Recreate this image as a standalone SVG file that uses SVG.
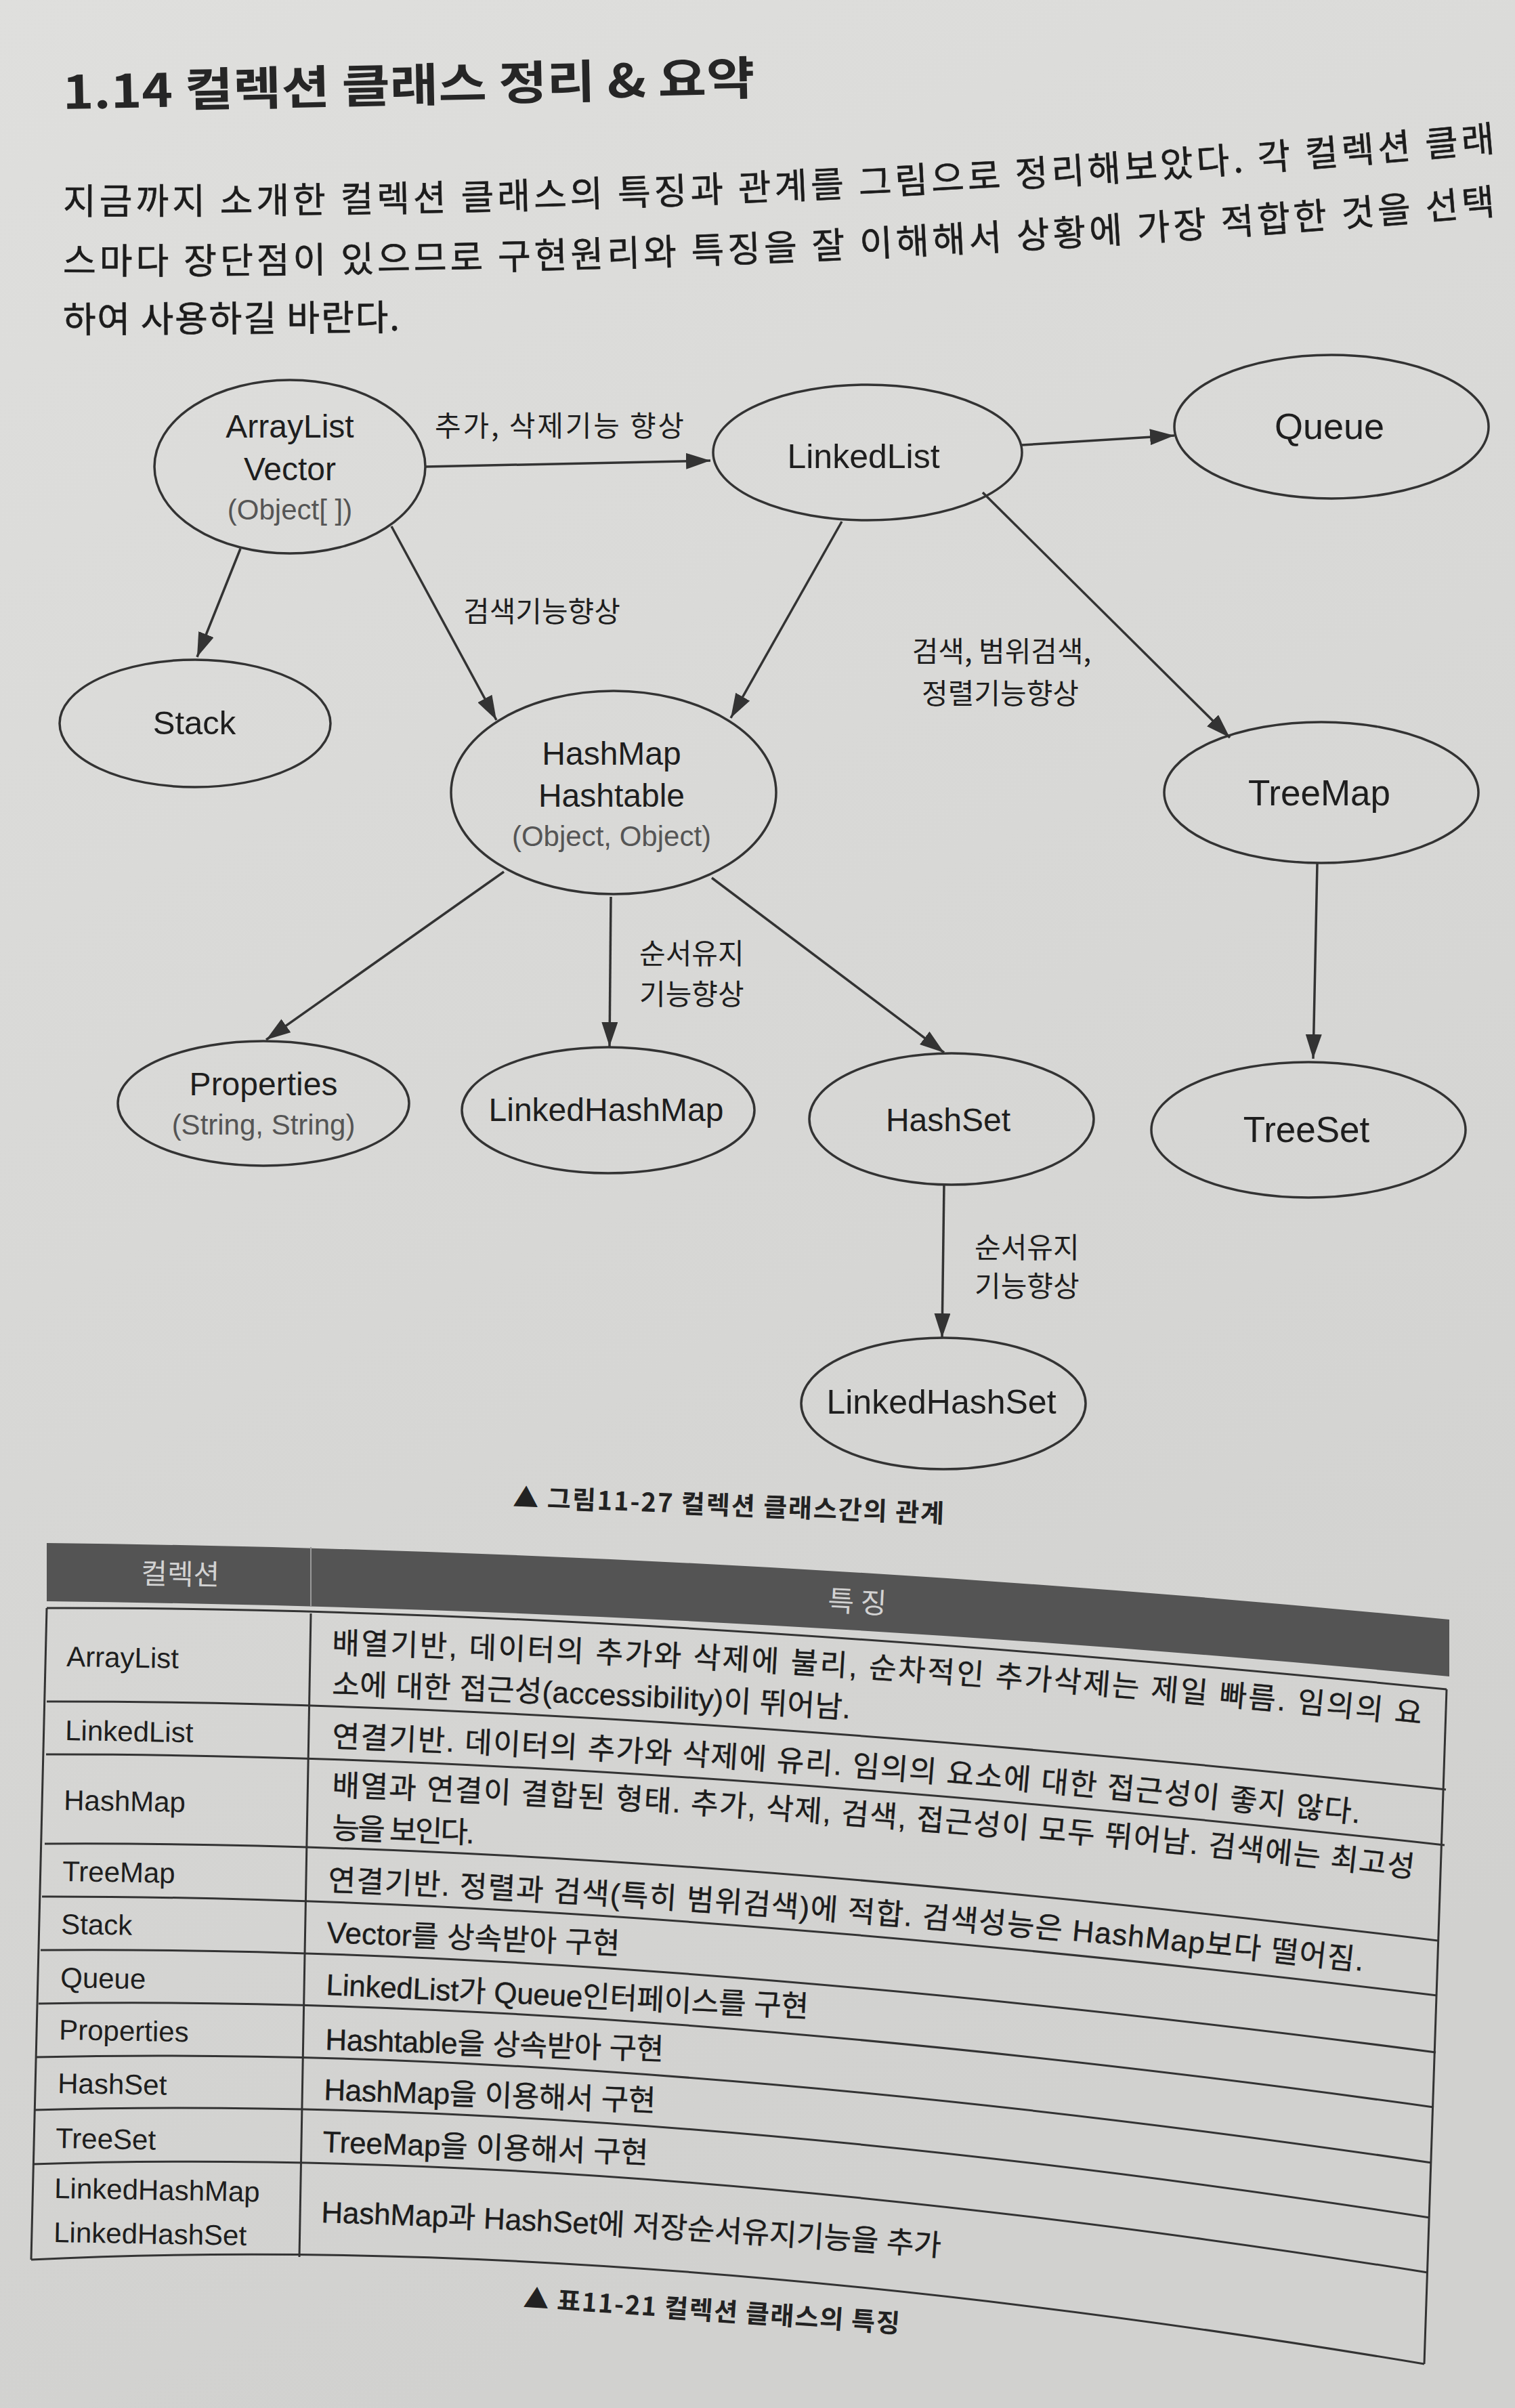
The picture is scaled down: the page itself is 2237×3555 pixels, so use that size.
<svg xmlns="http://www.w3.org/2000/svg" width="2237" height="3555" viewBox="0 0 2237 3555">
<defs>
<linearGradient id="paper" x1="0" y1="0" x2="0.3" y2="1">
<stop offset="0" stop-color="#dfdfdd"/>
<stop offset="0.5" stop-color="#d8d8d6"/>
<stop offset="1" stop-color="#d1d1cf"/>
</linearGradient>
<marker id="ah" viewBox="0 0 36 24" refX="36" refY="12" markerWidth="36" markerHeight="24" markerUnits="userSpaceOnUse" orient="auto">
<path d="M0,0 L36,12 L0,24 z" fill="#333"/>
</marker>
<path id="p1" d="M93,316 Q1152,319.5 2211,223"/>
<path id="p2" d="M93,404 Q1152,409 2211,316"/>
<path id="r1a" d="M490,2441 Q1295,2461.5 2100,2546"/>
<path id="r1b" d="M490,2502 Q873,2512.3 1256,2537"/>
<path id="r2" d="M490,2579 Q1250,2606.9 2010,2692"/>
<path id="r3a" d="M490,2651 Q1289.5,2679.7 2089,2772"/>
<path id="r4" d="M484,2791 Q1249,2821.5 2014,2910"/>
<path id="r11" d="M474,3281 Q932,3295.6 1390,3331"/>
<style>
.node ellipse{fill:none;stroke:#333;stroke-width:3.5}
.lbl{font-family:'Liberation Sans','Noto Sans CJK KR',sans-serif;font-size:48px;fill:#1e1e1e;text-anchor:middle}
.sub{font-size:42px;fill:#555}
.edge{stroke:#333;stroke-width:3.5;fill:none;marker-end:url(#ah)}
.elbl{font-family:'Noto Sans CJK KR',sans-serif;font-size:42px;fill:#1e1e1e}
.title{font-family:'Noto Sans CJK KR',sans-serif;font-weight:bold;font-size:68px;fill:#262626}
.para{font-family:'Noto Sans CJK KR',sans-serif;font-size:53px;fill:#1c1c1c;stroke:#1c1c1c;stroke-width:0.6}
.cap{font-family:'Noto Sans CJK KR',sans-serif;font-weight:bold;font-size:38px;fill:#222}
.th{font-family:'Noto Sans CJK KR',sans-serif;font-size:42px;fill:#d2d2d2}
.tl{font-family:'Liberation Sans','Noto Sans CJK KR',sans-serif;font-size:42px;fill:#1e1e1e}
.td{font-family:'Liberation Sans','Noto Sans CJK KR',sans-serif;font-size:44px;fill:#1c1c1c;stroke:#1c1c1c;stroke-width:0.4}
.rule{stroke:#333;stroke-width:3;fill:none}
</style>
</defs>
<rect width="2237" height="3555" fill="url(#paper)"/>

<g id="heading">
<text class="title" x="93" y="161" transform="rotate(-1.2 93 161)" textLength="1022" lengthAdjust="spacingAndGlyphs">1.14 컬렉션 클래스 정리 &amp; 요약</text>
<text class="para"><textPath href="#p1" textLength="2118" lengthAdjust="spacing">지금까지 소개한 컬렉션 클래스의 특징과 관계를 그림으로 정리해보았다. 각 컬렉션 클래</textPath></text>
<text class="para"><textPath href="#p2" textLength="2118" lengthAdjust="spacing">스마다 장단점이 있으므로 구현원리와 특징을 잘 이해해서 상황에 가장 적합한 것을 선택</textPath></text>
<text class="para" x="93" y="491" transform="rotate(-0.4 93 491)" textLength="497" lengthAdjust="spacing">하여 사용하길 바란다.</text>
</g>

<g id="connectors">
<line class="edge" x1="628" y1="689" x2="1049" y2="680"/>
<line class="edge" x1="355" y1="810" x2="291" y2="970"/>
<line class="edge" x1="578" y1="777" x2="733" y2="1063"/>
<line class="edge" x1="1243" y1="770" x2="1079" y2="1060"/>
<line class="edge" x1="1509" y1="657" x2="1734" y2="643"/>
<line class="edge" x1="1451" y1="727" x2="1816" y2="1089"/>
<line class="edge" x1="744" y1="1287" x2="393" y2="1535"/>
<line class="edge" x1="902" y1="1324" x2="900" y2="1545"/>
<line class="edge" x1="1051" y1="1296" x2="1394" y2="1554"/>
<line class="edge" x1="1945" y1="1275" x2="1939" y2="1563"/>
<line class="edge" x1="1394" y1="1747" x2="1391" y2="1975"/>
</g>

<g id="edge-labels">
<text class="elbl" x="642" y="644" textLength="368" lengthAdjust="spacing">추가, 삭제기능 향상</text>
<text class="elbl" x="684" y="918">검색기능향상</text>
<text class="elbl" x="1479" y="977" text-anchor="middle">검색, 범위검색,</text>
<text class="elbl" x="1477" y="1039" text-anchor="middle">정렬기능향상</text>
<text class="elbl" x="944" y="1423">순서유지</text>
<text class="elbl" x="944" y="1483">기능향상</text>
<text class="elbl" x="1439" y="1857">순서유지</text>
<text class="elbl" x="1439" y="1914">기능향상</text>
</g>

<g id="n-arraylist" class="node">
<ellipse cx="428" cy="689" rx="200" ry="128"/>
<text class="lbl" x="428" y="646">ArrayList</text>
<text class="lbl" x="428" y="709">Vector</text>
<text class="lbl sub" x="428" y="767">(Object[ ])</text>
</g>
<g id="n-linkedlist" class="node">
<ellipse cx="1281" cy="668" rx="228" ry="100"/>
<text class="lbl" x="1275" y="691" style="font-size:50px">LinkedList</text>
</g>
<g id="n-queue" class="node">
<ellipse cx="1966" cy="630" rx="232" ry="106"/>
<text class="lbl" x="1963" y="648" style="font-size:54px">Queue</text>
</g>
<g id="n-stack" class="node">
<ellipse cx="288" cy="1068" rx="200" ry="94"/>
<text class="lbl" x="287" y="1084" style="font-size:49px">Stack</text>
</g>
<g id="n-hashmap" class="node">
<ellipse cx="906" cy="1170" rx="240" ry="150"/>
<text class="lbl" x="903" y="1129">HashMap</text>
<text class="lbl" x="903" y="1191">Hashtable</text>
<text class="lbl sub" x="903" y="1249">(Object, Object)</text>
</g>
<g id="n-treemap" class="node">
<ellipse cx="1951" cy="1170" rx="232" ry="104"/>
<text class="lbl" x="1948" y="1189" style="font-size:53px">TreeMap</text>
</g>
<g id="n-properties" class="node">
<ellipse cx="389" cy="1629" rx="215" ry="92"/>
<text class="lbl" x="389" y="1617">Properties</text>
<text class="lbl sub" x="389" y="1675">(String, String)</text>
</g>
<g id="n-linkedhashmap" class="node">
<ellipse cx="898" cy="1639" rx="216" ry="93"/>
<text class="lbl" x="895" y="1655">LinkedHashMap</text>
</g>
<g id="n-hashset" class="node">
<ellipse cx="1405" cy="1652" rx="210" ry="97"/>
<text class="lbl" x="1400" y="1670">HashSet</text>
</g>
<g id="n-treeset" class="node">
<ellipse cx="1932" cy="1668" rx="232" ry="100"/>
<text class="lbl" x="1929" y="1686" style="font-size:53px">TreeSet</text>
</g>
<g id="n-linkedhashset" class="node">
<ellipse cx="1393" cy="2072" rx="210" ry="97"/>
<text class="lbl" x="1390" y="2087" style="font-size:50px">LinkedHashSet</text>
</g>

<g id="caption-figure">
<text class="cap" x="757" y="2224" transform="rotate(2.16 757 2224)" textLength="637" lengthAdjust="spacing">▲ 그림11-27  컬렉션 클래스간의 관계</text>
</g>

<g id="table">
<path d="M69,2278 Q1104,2290 2140,2391 L2140,2475 Q1104,2376 69,2364 Z" fill="#545454"/>
<line x1="459" y1="2284" x2="459" y2="2371" stroke="#9a9a9a" stroke-width="2"/>
<text class="th" x="266" y="2339" text-anchor="middle" transform="rotate(1 266 2339)">컬렉션</text>
<text class="th" x="1265" y="2380" text-anchor="middle" transform="rotate(3 1265 2380)">특 징</text>

<path class="rule" d="M69,2374 Q897.5,2372 2136,2494"/>
<path class="rule" d="M69,2512 Q898,2511 2135,2642"/>
<path class="rule" d="M68,2590 Q899.5,2589 2133,2724"/>
<path class="rule" d="M66,2722 Q905.5,2716.5 2123,2865"/>
<path class="rule" d="M62,2800 Q908,2799 2122,2946"/>
<path class="rule" d="M60,2879 Q910,2871.5 2120,3030"/>
<path class="rule" d="M57,2958 Q913,2943.5 2117,3111"/>
<path class="rule" d="M54,3037 Q916,3017 2114,3193"/>
<path class="rule" d="M51,3115 Q919,3089.5 2111,3274"/>
<path class="rule" d="M48,3195 Q922,3166.5 2108,3355"/>
<path class="rule" d="M46,3336 Q925.5,3293 2103,3490"/>
<line class="rule" x1="69" y1="2374" x2="46" y2="3336"/>
<line class="rule" x1="2136" y1="2494" x2="2103" y2="3490"/>
<line class="rule" x1="459" y1="2382" x2="442" y2="3332"/>

<text class="tl" x="98" y="2460" transform="rotate(1 98 2460)">ArrayList</text>
<text class="tl" x="96" y="2569" transform="rotate(1 96 2569)">LinkedList</text>
<text class="tl" x="94" y="2672" transform="rotate(1 94 2672)">HashMap</text>
<text class="tl" x="92" y="2777" transform="rotate(1 92 2777)">TreeMap</text>
<text class="tl" x="90" y="2855" transform="rotate(1 90 2855)">Stack</text>
<text class="tl" x="89" y="2934" transform="rotate(1 89 2934)">Queue</text>
<text class="tl" x="87" y="3011" transform="rotate(1 87 3011)">Properties</text>
<text class="tl" x="85" y="3090" transform="rotate(1 85 3090)">HashSet</text>
<text class="tl" x="82" y="3171" transform="rotate(1 82 3171)">TreeSet</text>
<text class="tl" x="80" y="3245" transform="rotate(1 80 3245)">LinkedHashMap</text>
<text class="tl" x="79" y="3310" transform="rotate(1 79 3310)">LinkedHashSet</text>

<text class="td"><textPath href="#r1a" textLength="1612" lengthAdjust="spacing">배열기반, 데이터의 추가와 삭제에 불리, 순차적인 추가삭제는 제일 빠름. 임의의 요</textPath></text>
<text class="td"><textPath href="#r1b" textLength="766" lengthAdjust="spacing">소에 대한 접근성(accessibility)이 뛰어남.</textPath></text>
<text class="td"><textPath href="#r2" textLength="1522" lengthAdjust="spacing">연결기반. 데이터의 추가와 삭제에 유리. 임의의 요소에 대한 접근성이 좋지 않다.</textPath></text>
<text class="td"><textPath href="#r3a" textLength="1602" lengthAdjust="spacing">배열과 연결이 결합된 형태. 추가, 삭제, 검색, 접근성이 모두 뛰어남. 검색에는 최고성</textPath></text>
<text class="td" x="490" y="2714" transform="rotate(2 490 2714)" textLength="210" lengthAdjust="spacing">능을 보인다.</text>
<text class="td"><textPath href="#r4" textLength="1533" lengthAdjust="spacing">연결기반. 정렬과 검색(특히 범위검색)에 적합. 검색성능은 HashMap보다 떨어짐.</textPath></text>
<text class="td" x="482" y="2868" transform="rotate(2.25 482 2868)" textLength="433" lengthAdjust="spacing">Vector를 상속받아 구현</text>
<text class="td" x="481" y="2945" transform="rotate(2.65 481 2945)" textLength="713" lengthAdjust="spacing">LinkedList가 Queue인터페이스를 구현</text>
<text class="td" x="480" y="3026" transform="rotate(1.72 480 3026)" textLength="500" lengthAdjust="spacing">Hashtable을 상속받아 구현</text>
<text class="td" x="478" y="3100" transform="rotate(1.99 478 3100)" textLength="490" lengthAdjust="spacing">HashMap을 이용해서 구현</text>
<text class="td" x="476" y="3177" transform="rotate(2.02 476 3177)" textLength="481" lengthAdjust="spacing">TreeMap을 이용해서 구현</text>
<text class="td"><textPath href="#r11" textLength="916" lengthAdjust="spacing">HashMap과 HashSet에 저장순서유지기능을 추가</textPath></text>
</g>

<g id="caption-table">
<text class="cap" x="772" y="3406" transform="rotate(3.9 772 3406)" textLength="557" lengthAdjust="spacing">▲ 표11-21  컬렉션 클래스의 특징</text>
</g>
</svg>
